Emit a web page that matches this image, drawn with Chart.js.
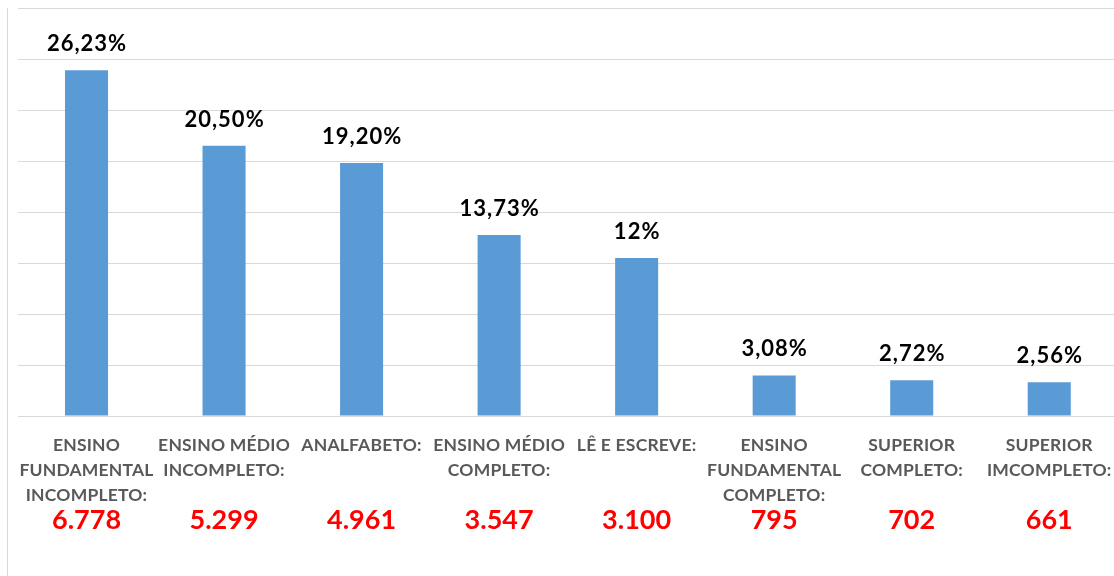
<!DOCTYPE html>
<html>
<head>
<meta charset="utf-8">
<script src="https://cdn.jsdelivr.net/npm/chart.js@4"></script>
<style>
  html, body { margin: 0; padding: 0; background: #fff; overflow: hidden; }
  #wrap { position: absolute; left: 0; top: 0; width: 1118px; height: 576px; }
</style>
</head>
<body>
<div id="wrap"><canvas id="chart"></canvas></div>
<script>
const categories = [
  ["ENSINO", "FUNDAMENTAL", "INCOMPLETO:"],
  ["ENSINO MÉDIO", "INCOMPLETO:"],
  ["ANALFABETO:"],
  ["ENSINO MÉDIO", "COMPLETO:"],
  ["LÊ E ESCREVE:"],
  ["ENSINO", "FUNDAMENTAL", "COMPLETO:"],
  ["SUPERIOR", "COMPLETO:"],
  ["SUPERIOR", "IMCOMPLETO:"],
];
const counts = [6778, 5299, 4961, 3547, 3100, 795, 702, 661];
const pctLabels = ["26,23%", "20,50%", "19,20%", "13,73%", "12%", "3,08%", "2,72%", "2,56%"];

function fmt(n) {
  return String(n).replace(/\B(?=(\d{3})+(?!\d))/g, ".");
}

// spread the axis letters a little, like the Excel original
const spacing = {
  id: "spacing",
  beforeDraw(chart) { chart.ctx.letterSpacing = "0.2px"; },
  beforeDatasetsDraw(chart) { chart.ctx.letterSpacing = "0px"; },
};

// percent labels above bars + red counts under the category names
const barText = {
  id: "barText",
  afterDatasetsDraw(chart) {
    const ctx = chart.ctx;
    const meta = chart.getDatasetMeta(0);
    ctx.save();
    ctx.textAlign = "center";
    meta.data.forEach((bar, i) => {
      ctx.letterSpacing = "1px";
      ctx.fillStyle = "#000";
      ctx.font = "bold 22px Lato";
      ctx.textBaseline = "alphabetic";
      ctx.fillText(pctLabels[i], bar.x + 0.5, bar.y - 19);

      ctx.letterSpacing = "0px";
      ctx.fillStyle = "#ff0000";
      ctx.font = "bold 27px Lato";
      ctx.textBaseline = "middle";
      ctx.fillText(fmt(counts[i]), bar.x, 520);
    });
    // left frame line of the sheet
    ctx.strokeStyle = "#d9d9d9";
    ctx.lineWidth = 1;
    ctx.beginPath();
    ctx.moveTo(7.5, 8);
    ctx.lineTo(7.5, 576);
    ctx.stroke();
    ctx.restore();
  },
};

new Chart(document.getElementById("chart"), {
  type: "bar",
  data: {
    labels: categories,
    datasets: [
      {
        data: counts,
        backgroundColor: "#5b9bd5",
        borderWidth: 0,
        barPercentage: 0.313,
        categoryPercentage: 1,
      },
    ],
  },
  options: {
    responsive: true,
    maintainAspectRatio: false,
    animation: false,
    layout: { padding: { left: 17.75, top: 8, right: 0, bottom: 0 } },
    plugins: { legend: { display: false }, tooltip: { enabled: false } },
    scales: {
      x: {
        grid: { display: false },
        border: { display: false },
        ticks: {
          color: "#595959",
          font: { family: "Lato", size: 17.5, weight: "bold", lineHeight: 1.43 },
          maxRotation: 0,
          autoSkip: false,
          padding: 9,
        },
        afterFit(scale) {
          scale.height = 160;
          scale.paddingLeft = 0;
          scale.paddingRight = 0;
        },
      },
      y: {
        min: 0,
        max: 8000,
        ticks: { display: false, stepSize: 1000 },
        grid: { color: "#d9d9d9", drawTicks: false },
        border: { display: false },
        afterFit(scale) { scale.width = 0; },
      },
    },
  },
  plugins: [spacing, barText],
});
</script>
</body>
</html>
